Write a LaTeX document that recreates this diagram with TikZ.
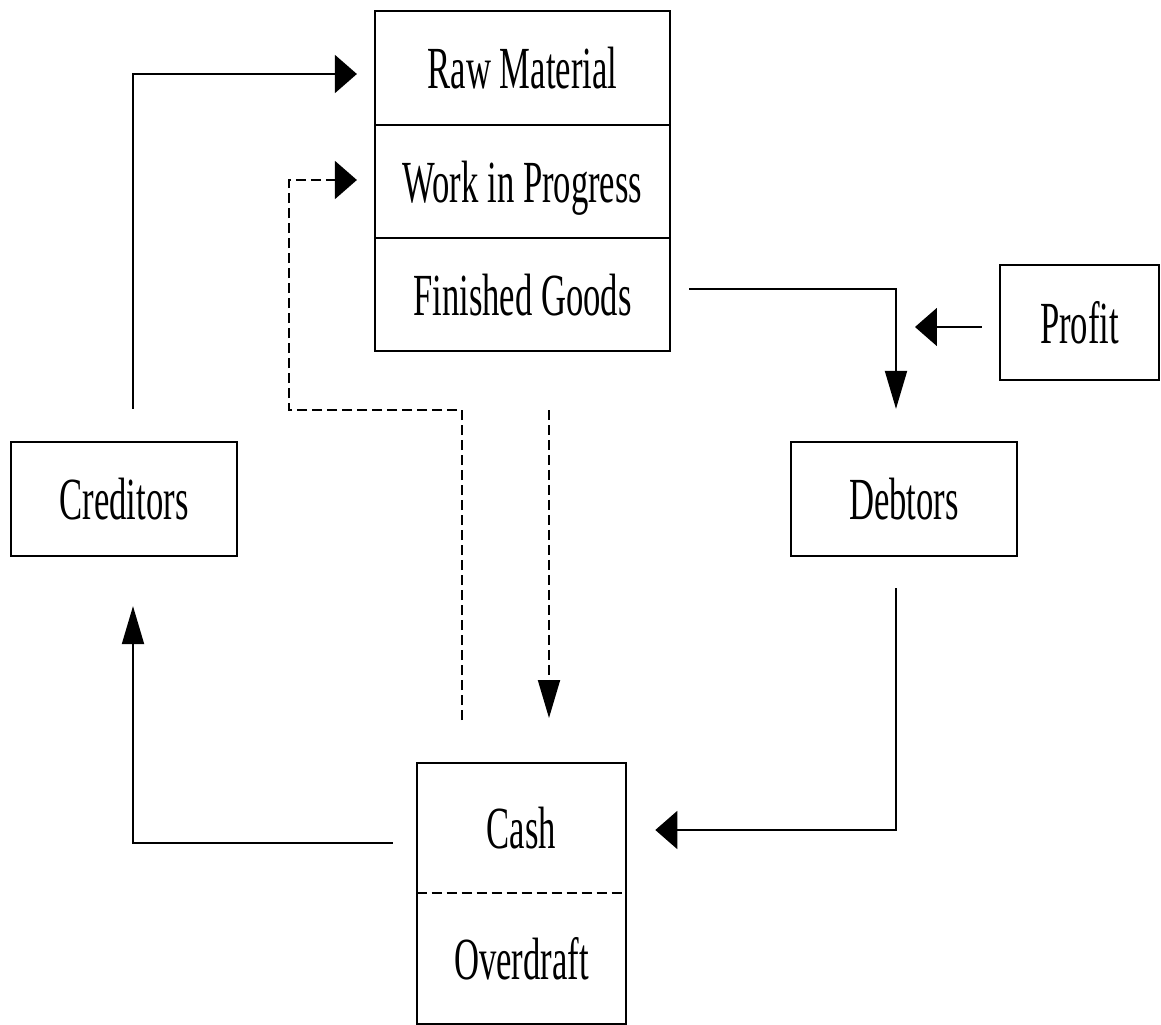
\documentclass[tikz,border=0pt]{standalone}
\usepackage{fontspec}
\usepackage{graphicx}
\setmainfont{Liberation Serif}
\usetikzlibrary{arrows.meta}
\newcommand{\narrowtxt}[1]{\scalebox{0.58}[1]{#1}}
\begin{document}
\begin{tikzpicture}[x=0.02cm, y=-0.02cm,
  box/.style={draw, line width=1.3pt, inner sep=0pt, text height=0.82cm, text depth=0cm, font=\fontsize{34}{40}\selectfont},
  lbl/.style={inner sep=0pt, text height=0.82cm, text depth=0cm, font=\fontsize{34}{40}\selectfont},
  hflow/.style={line width=1.1pt, -{Triangle[length=0.44cm, width=0.76cm]}},
  vflow/.style={line width=1.1pt, -{Triangle[length=0.76cm, width=0.44cm]}},
  plain/.style={line width=1.1pt},
  dashed pat/.style={dash pattern=on 0.2cm off 0.1cm},
  dashline/.style={plain, dashed pat}]
\useasboundingbox (0,0) rectangle (1161,1025);

% stock column
\node[box, minimum width=5.9cm, minimum height=2.28cm] (rm) at (522.5,68) {\narrowtxt{Raw Material}};
\node[box, minimum width=5.9cm, minimum height=2.26cm] (wip) at (522.5,181.5) {\narrowtxt{Work in Progress}};
\node[box, minimum width=5.9cm, minimum height=2.26cm] (fg) at (522.5,294.5) {\narrowtxt{Finished Goods}};

% side boxes
\node[box, minimum width=4.52cm, minimum height=2.28cm] (cred) at (124,499) {\narrowtxt{Creditors}};
\node[box, minimum width=4.52cm, minimum height=2.28cm] (deb) at (904,499) {\narrowtxt{Debtors}};
\node[box, minimum width=3.18cm, minimum height=2.3cm] (prof) at (1079.5,322.5) {\narrowtxt{Profit}};

% cash / overdraft box
\node[lbl, minimum width=4.18cm, minimum height=2.6cm] (cash) at (521.5,828) {\narrowtxt{Cash}};
\node[lbl, minimum width=4.18cm, minimum height=2.62cm] (od) at (521.5,958.5) {\narrowtxt{Overdraft}};
\draw[line width=1.3pt] (od.south west) -- (cash.north west) -- (cash.north east) -- (od.south east) -- cycle;
\draw[dashline] (cash.south west) -- (cash.south east);

% helper points for the dashed routes
\coordinate (wstart) at (462,720);
\coordinate (wbend1) at (462,410);
\coordinate (wbend2) at (289,410);
\coordinate (fstart) at (549,410);
\coordinate (fend) at (549,718);
\coordinate (pjoin) at (896,327);

% connectors
\draw[hflow, shorten <=0.64cm, shorten >=0.34cm] ([xshift=0.18cm]cred.north) |- ([yshift=-0.12cm]rm.west);
\draw[hflow, dashed pat, shorten >=0.34cm] (wstart) -- (wbend1) -- (wbend2) |- ([yshift=0.03cm]wip.west);
\draw[vflow, dashed pat] (fstart) -- (fend);
\draw[vflow, shorten <=0.36cm, shorten >=0.64cm] ([yshift=0.11cm]fg.east) -| ([xshift=-0.16cm]deb.north);
\draw[hflow, shorten <=0.34cm, shorten >=0.38cm] ([yshift=-0.09cm]prof.west) -- (pjoin);
\draw[hflow, shorten <=0.62cm, shorten >=0.58cm] ([xshift=-0.16cm]deb.south) |- ([yshift=-0.04cm]cash.east);
\draw[vflow, shorten <=0.48cm, shorten >=0.98cm] ([yshift=-0.3cm]cash.west) -| ([xshift=0.18cm]cred.south);
\end{tikzpicture}
\end{document}
